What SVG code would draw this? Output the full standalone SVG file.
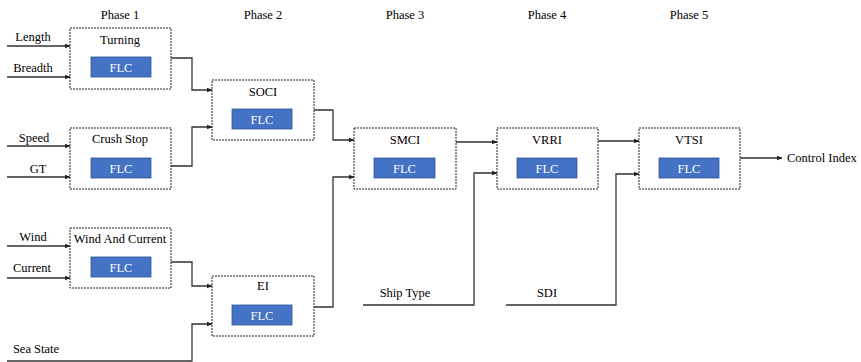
<svg xmlns="http://www.w3.org/2000/svg" width="861" height="362" viewBox="0 0 861 362" font-family="'Liberation Serif', 'DejaVu Serif', serif">
<defs>
<style>
text{font-family:'Liberation Serif','DejaVu Serif',serif;font-size:12.5px;fill:#000}
.box{fill:#fff;stroke:#222;stroke-width:1;stroke-dasharray:2 1}
.flc{fill:#4472C4;stroke:#2F5597;stroke-width:0.8}
.flct{fill:#fff;text-anchor:middle}
.t{text-anchor:middle}
.c{fill:none;stroke:#333;stroke-width:1.3}
</style>
<marker id="ah" viewBox="0 0 10 10" refX="9" refY="5" markerWidth="6" markerHeight="6" markerUnits="userSpaceOnUse" orient="auto">
<path d="M0,1 L10,5 L0,9 z" fill="#222"/>
</marker>
</defs>
<rect width="861" height="362" fill="#fff"/>
<g id="phases">
<text class="t" x="120" y="19">Phase 1</text>
<text class="t" x="263" y="19">Phase 2</text>
<text class="t" x="405" y="19">Phase 3</text>
<text class="t" x="547" y="19">Phase 4</text>
<text class="t" x="689" y="19">Phase 5</text>
</g>
<g id="connectors">
<path class="c" d="M7,46 H70" marker-end="url(#ah)"/>
<path class="c" d="M7,77 H70" marker-end="url(#ah)"/>
<path class="c" d="M7,146 H70" marker-end="url(#ah)"/>
<path class="c" d="M7,177 H70" marker-end="url(#ah)"/>
<path class="c" d="M7,246 H70" marker-end="url(#ah)"/>
<path class="c" d="M7,278 H70" marker-end="url(#ah)"/>
<path class="c" d="M171,58 H192 V90 H212" marker-end="url(#ah)"/>
<path class="c" d="M171,166 H192 V127 H212" marker-end="url(#ah)"/>
<path class="c" d="M171,262 H192 V286 H212" marker-end="url(#ah)"/>
<path class="c" d="M7,361 H192 V324 H212" marker-end="url(#ah)"/>
<path class="c" d="M314,110 H333 V140 H354" marker-end="url(#ah)"/>
<path class="c" d="M314,307 H333 V177 H354" marker-end="url(#ah)"/>
<path class="c" d="M456,142 H497" marker-end="url(#ah)"/>
<path class="c" d="M363,305 H474 V173 H497" marker-end="url(#ah)"/>
<path class="c" d="M598,141 H639" marker-end="url(#ah)"/>
<path class="c" d="M506,305 H616 V174 H639" marker-end="url(#ah)"/>
<path class="c" d="M740,158 H782" marker-end="url(#ah)"/>
</g>
<g id="inputs">
<text class="t" x="33" y="41">Length</text>
<text class="t" x="33" y="72">Breadth</text>
<text class="t" x="34" y="142">Speed</text>
<text class="t" x="38" y="173">GT</text>
<text class="t" x="33" y="241">Wind</text>
<text class="t" x="32" y="272">Current</text>
<text class="t" x="36" y="353">Sea State</text>
<text class="t" x="405" y="297">Ship Type</text>
<text class="t" x="547" y="297">SDI</text>
<text x="787" y="162">Control Index</text>
</g>
<g id="turning">
<rect class="box" x="70" y="28" width="101" height="61"/>
<text class="t" x="120" y="44">Turning</text>
<rect class="flc" x="91" y="57" width="60" height="20"/>
<text class="flct" x="121" y="71.5">FLC</text>
</g>
<g id="crushstop">
<rect class="box" x="70" y="128" width="101" height="61"/>
<text class="t" x="120" y="143">Crush Stop</text>
<rect class="flc" x="91" y="158" width="60" height="20"/>
<text class="flct" x="121" y="172.5">FLC</text>
</g>
<g id="windcurrent">
<rect class="box" x="70" y="228" width="101" height="60"/>
<text class="t" x="120" y="243">Wind And Current</text>
<rect class="flc" x="91" y="257" width="60" height="20"/>
<text class="flct" x="121" y="271.5">FLC</text>
</g>
<g id="soci">
<rect class="box" x="212" y="80" width="102" height="60"/>
<text class="t" x="263" y="96">SOCI</text>
<rect class="flc" x="232" y="109" width="60" height="20"/>
<text class="flct" x="262" y="123.5">FLC</text>
</g>
<g id="ei">
<rect class="box" x="212" y="276" width="102" height="60"/>
<text class="t" x="263" y="290">EI</text>
<rect class="flc" x="232" y="305" width="60" height="20"/>
<text class="flct" x="262" y="319.5">FLC</text>
</g>
<g id="smci">
<rect class="box" x="354" y="128" width="102" height="61"/>
<text class="t" x="405" y="144">SMCI</text>
<rect class="flc" x="374" y="158" width="61" height="20"/>
<text class="flct" x="404.5" y="172.5">FLC</text>
</g>
<g id="vrri">
<rect class="box" x="497" y="128" width="101" height="61"/>
<text class="t" x="547" y="144">VRRI</text>
<rect class="flc" x="517" y="158" width="60" height="20"/>
<text class="flct" x="547" y="172.5">FLC</text>
</g>
<g id="vtsi">
<rect class="box" x="639" y="128" width="101" height="61"/>
<text class="t" x="689" y="144">VTSI</text>
<rect class="flc" x="659" y="158" width="60" height="20"/>
<text class="flct" x="689" y="172.5">FLC</text>
</g>
</svg>
